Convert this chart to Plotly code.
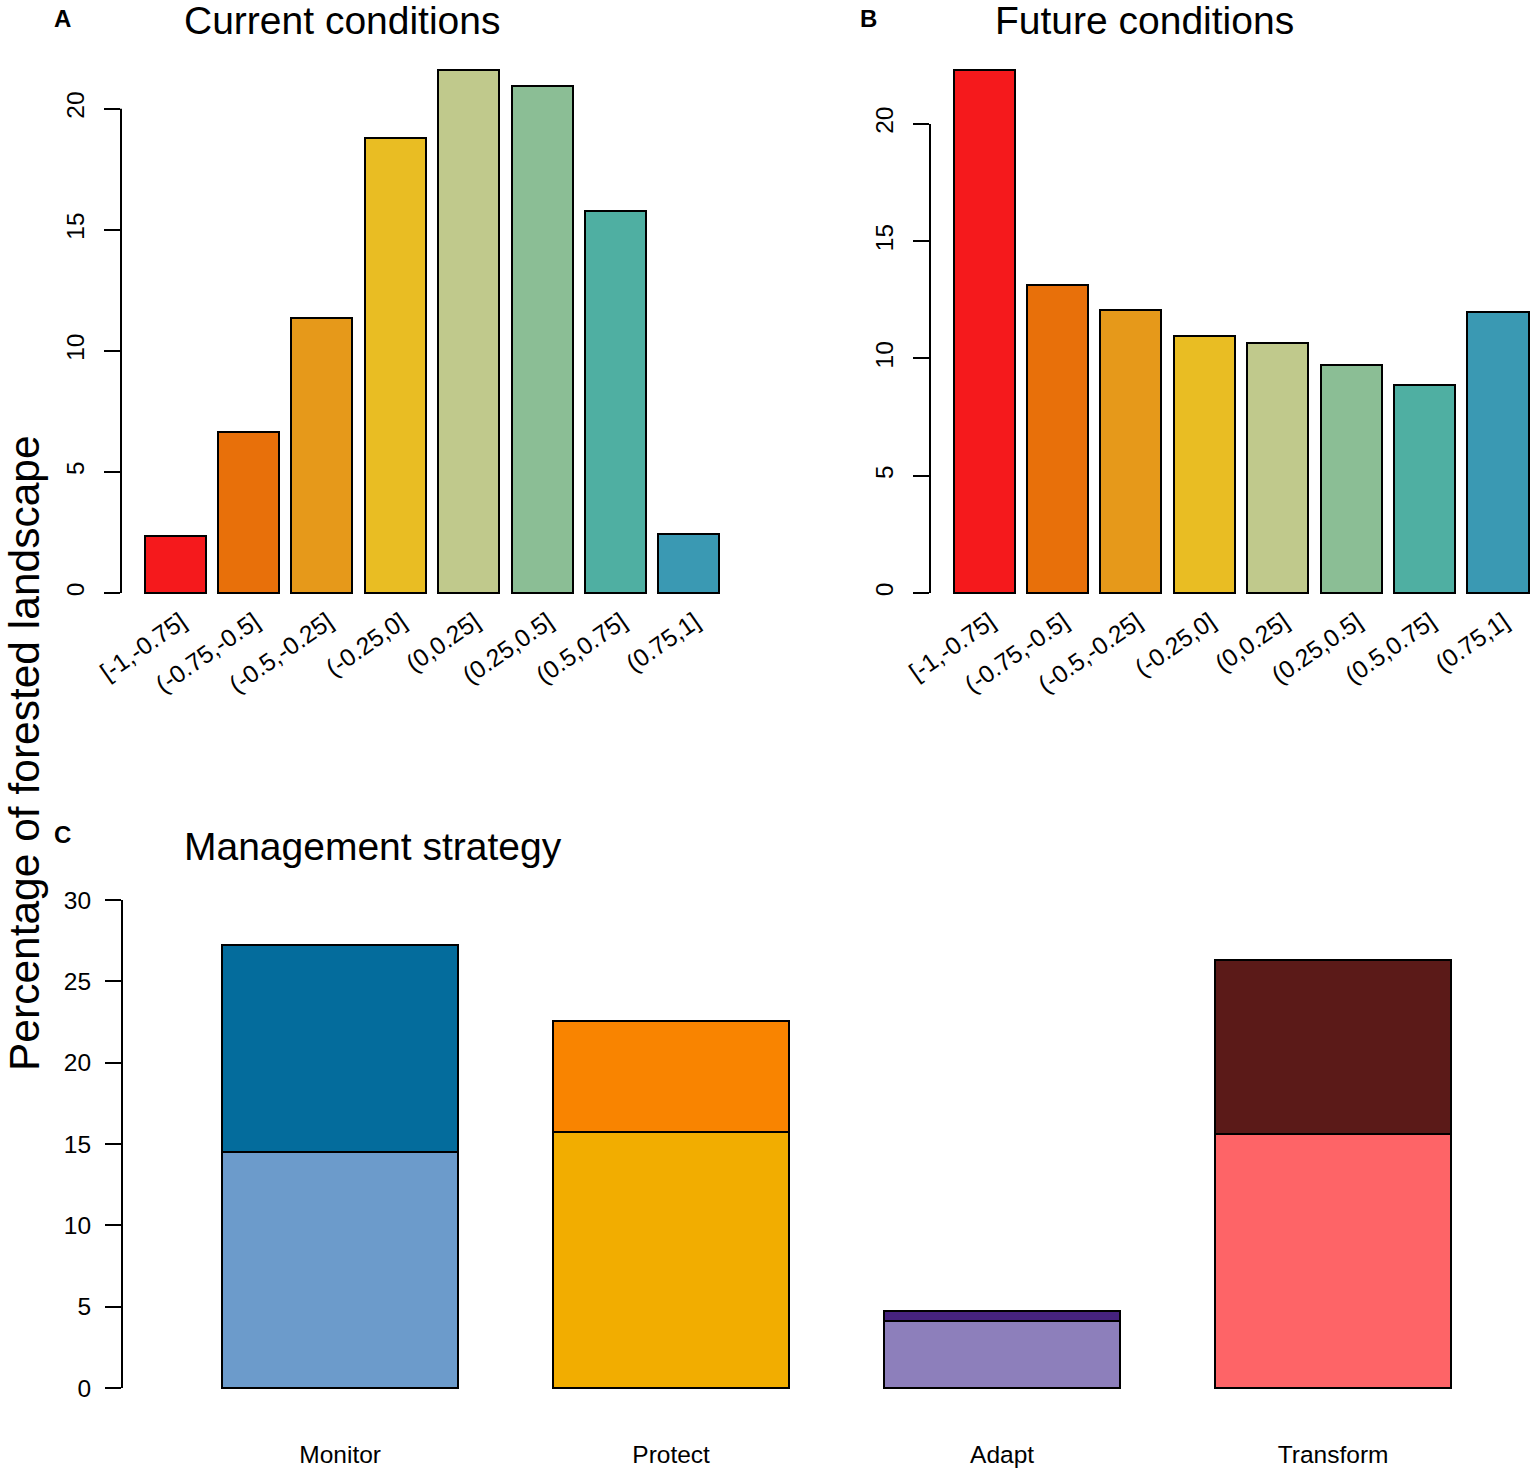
import plotly.graph_objects as go

W, H = 1535, 1474

# ---- data ----
bins = ["[-1,-0.75]", "(-0.75,-0.5]", "(-0.5,-0.25]", "(-0.25,0]",
        "(0,0.25]", "(0.25,0.5]", "(0.5,0.75]", "(0.75,1]"]
current_pct = [2.36, 6.65, 11.36, 18.8, 21.6, 20.95, 15.79, 2.44]
future_pct = [22.3, 13.12, 12.05, 10.94, 10.64, 9.74, 8.85, 11.97]
bin_colors = ["#F5191C", "#E8700A", "#E6991A", "#E9BD23",
              "#C0C98C", "#8BBE95", "#4FAFA2", "#3A99B3"]

strategies = ["Monitor", "Protect", "Adapt", "Transform"]
strategy_lower = [14.5, 15.73, 4.12, 15.61]
strategy_upper = [12.73, 6.83, 0.61, 10.69]
lower_colors = ["#6C9BCB", "#F2AD00", "#8D7FBB", "#FE6467"]
upper_colors = ["#046C9C", "#F98400", "#46237F", "#5B1A18"]

ticks_ab = [0, 5, 10, 15, 20]
ticks_c = [0, 5, 10, 15, 20, 25, 30]

FONT = "Liberation Sans, Arial, sans-serif"


def px_x(p):
    return p / W


def px_y(p):
    return 1 - p / H


fig = go.Figure()
line = dict(color="black", width=2)

fig.add_trace(go.Bar(x=bins, y=current_pct, marker=dict(color=bin_colors, line=line),
                     width=0.833, xaxis="x", yaxis="y", showlegend=False))
fig.add_trace(go.Bar(x=bins, y=future_pct, marker=dict(color=bin_colors, line=line),
                     width=0.833, xaxis="x2", yaxis="y2", showlegend=False))
fig.add_trace(go.Bar(x=strategies, y=strategy_lower, marker=dict(color=lower_colors, line=line),
                     width=0.714, xaxis="x3", yaxis="y3", showlegend=False))
fig.add_trace(go.Bar(x=strategies, y=strategy_upper, marker=dict(color=upper_colors, line=line),
                     width=0.714, xaxis="x3", yaxis="y3", showlegend=False))

tickfont = dict(family=FONT, size=24.5, color="black")
common_x = dict(showline=False, showgrid=False, zeroline=False, ticks="",
                tickfont=tickfont, type="category", automargin=False)
common_y = dict(showline=False, showgrid=False, zeroline=False, ticks="outside",
                ticklen=16, tickwidth=2, tickcolor="black", tickfont=tickfont,
                automargin=False)

ymaxA = max(current_pct)
ymaxB = max(future_pct)

fig.update_layout(
    width=W, height=H,
    margin=dict(l=0, r=0, t=0, b=0, autoexpand=False),
    paper_bgcolor="white", plot_bgcolor="white",
    barmode="stack",
    font=dict(family=FONT, color="black"),
    xaxis=dict(common_x, domain=[px_x(121), px_x(743)], range=[-0.737, 7.737],
               tickangle=-35, anchor="y", ticklabelshift=6, ticklabelstandoff=-12),
    yaxis=dict(common_y, domain=[px_y(614), px_y(49)],
               range=[-0.04 * ymaxA, 1.04 * ymaxA], tickvals=ticks_ab,
               tickangle=-90, anchor="x", ticklabelstandoff=10),
    xaxis2=dict(common_x, domain=[px_x(930), 1.0], range=[-0.737, 7.505],
                tickangle=-35, anchor="y2", ticklabelshift=6, ticklabelstandoff=-12),
    yaxis2=dict(common_y, domain=[px_y(614), px_y(49)],
                range=[-0.04 * ymaxB, 1.04 * ymaxB], tickvals=ticks_ab,
                tickangle=-90, anchor="x2", ticklabelstandoff=10),
    xaxis3=dict(common_x, domain=[px_x(122), 1.0], range=[-0.659, 3.61],
                tickangle=0, anchor="y3", ticklabelstandoff=30),
    yaxis3=dict(common_y, domain=[px_y(1407.5), px_y(880.5)],
                range=[-1.2, 31.2], tickvals=ticks_c, anchor="x3",
                ticklabelstandoff=9),
)

# axis lines spanning only the tick range (R style)
for xr, yr, top in [("x domain", "y", max(ticks_ab)), ("x2 domain", "y2", max(ticks_ab)),
                    ("x3 domain", "y3", max(ticks_c))]:
    fig.add_shape(type="line", xref=xr, yref=yr, x0=0, x1=0, y0=0, y1=top,
                  line=dict(color="black", width=2))

# titles and panel letters
titles = [("Current conditions", 182, 21), ("Future conditions", 993, 21),
          ("Management strategy", 182, 846)]
for text, x, y in titles:
    fig.add_annotation(text=text, x=px_x(x), y=px_y(y), xref="paper", yref="paper",
                       xanchor="left", yanchor="middle", showarrow=False,
                       font=dict(family=FONT, size=39, color="black"))

letters = [("A", 62, 19), ("B", 868, 19), ("C", 62, 834)]
for text, x, y in letters:
    fig.add_annotation(text="<b>%s</b>" % text, x=px_x(x), y=px_y(y), xref="paper", yref="paper",
                       xanchor="center", yanchor="middle", showarrow=False,
                       font=dict(family=FONT, size=24, color="black"))

fig.add_annotation(text="Percentage of forested landscape", x=px_x(25), y=px_y(753),
                   xref="paper", yref="paper", xanchor="center", yanchor="middle",
                   textangle=-90, showarrow=False,
                   font=dict(family=FONT, size=42.5, color="black"))

fig.write_html("out.html", config={"displayModeBar": False},
               post_script="document.body.style.margin='0px';")
